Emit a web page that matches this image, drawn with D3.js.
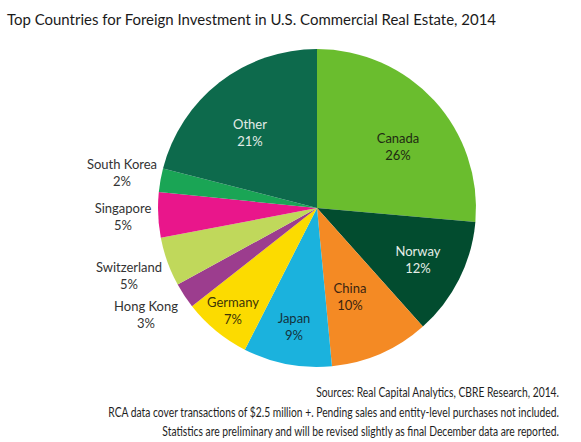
<!DOCTYPE html>
<html>
<head>
<meta charset="utf-8">
<script src="https://cdn.jsdelivr.net/npm/d3@7"></script>
<style>
  html, body { margin: 0; padding: 0; background: #ffffff; }
  svg { display: block; }
  text { font-family: "Lato", "Open Sans", sans-serif; }
</style>
</head>
<body>
<svg id="chart" width="581" height="442"></svg>
<script>
// ---- data ----
const countries = ["Canada", "Norway", "China", "Japan", "Germany", "Hong Kong", "Switzerland", "Singapore", "South Korea", "Other"];
const shares    = [26.4, 12.0, 10.1, 9.0, 6.9, 2.6, 5.0, 4.6, 2.4, 21.0];
const labels    = ["26%", "12%", "10%", "9%", "7%", "3%", "5%", "5%", "2%", "21%"];
const colors    = ["#6abd2e", "#024c2f", "#f48a24", "#1bb2dd", "#fcdb00", "#9c3d8e", "#c0d85b", "#e9168b", "#1aa555", "#0d6a4c"];
const labelColors = ["#1f2a12", "#e6eee8", "#3a2410", "#14323d", "#3d3408", "#333333", "#333333", "#333333", "#333333", "#e3ece7"];

const titleText = "Top Countries for Foreign Investment in U.S. Commercial Real Estate, 2014";
const notes = [
  "Sources: Real Capital Analytics, CBRE Research, 2014.",
  "RCA data cover transactions of $2.5 million +. Pending sales and entity-level purchases not included.",
  "Statistics are preliminary and will be revised slightly as final December data are reported."
];

// ---- layout ----
const cx = 317, cy = 208, radius = 159;
// label anchor offsets (first-line baseline) relative to the pie centre
const labelOffset = {
  "Canada": [81, -65], "Norway": [101, 48], "China": [33, 85], "Japan": [-23, 115],
  "Germany": [-84, 99], "Hong Kong": [-171, 103], "Switzerland": [-188, 64],
  "Singapore": [-194, 5], "South Korea": [-195, -39], "Other": [-67, -79]
};
const noteWidth = 451; // width of the longest footnote line in the reference

const svg = d3.select("#chart");

svg.append("text")
  .attr("x", 7).attr("y", 25)
  .attr("font-size", 15.5)
  .attr("fill", "#1a1a1a")
  .attr("textLength", 489)
  .attr("lengthAdjust", "spacingAndGlyphs")
  .text(titleText);

const data = countries.map((c, i) => ({ name: c, value: shares[i], label: labels[i], color: colors[i], tcolor: labelColors[i] }));

const pie = d3.pie().sort(null).value(d => d.value);
const arc = d3.arc().innerRadius(0).outerRadius(radius);

const g = svg.append("g").attr("transform", `translate(${cx},${cy})`);

g.selectAll("path.slice")
  .data(pie(data))
  .join("path")
  .attr("class", "slice")
  .attr("d", arc)
  .attr("fill", d => d.data.color);

const lbl = g.selectAll("g.lbl")
  .data(pie(data))
  .join("g")
  .attr("class", "lbl")
  .attr("transform", d => `translate(${labelOffset[d.data.name][0]},${labelOffset[d.data.name][1]})`);

lbl.append("text")
  .attr("text-anchor", "middle")
  .attr("font-size", 13)
  .attr("fill", d => d.data.tcolor)
  .text(d => d.data.name);

lbl.append("text")
  .attr("text-anchor", "middle")
  .attr("y", 17)
  .attr("font-size", 13)
  .attr("fill", d => d.data.tcolor)
  .text(d => d.data.label);

// footnotes: condensed by a horizontal scale so the longest line matches the reference width
const noteG = svg.selectAll("g.note")
  .data(notes)
  .join("g")
  .attr("class", "note");

const noteText = noteG.append("text")
  .attr("x", 0).attr("y", 0)
  .attr("text-anchor", "end")
  .attr("font-size", 13)
  .attr("fill", "#1e1e1e")
  .text(d => d);

const natural = noteText.filter((d, i) => i === 1).node().getComputedTextLength();
const sx = noteWidth / natural;
noteG.attr("transform", (d, i) => `translate(559,${397 + i * 19.5}) scale(${sx},1)`);
</script>
</body>
</html>
